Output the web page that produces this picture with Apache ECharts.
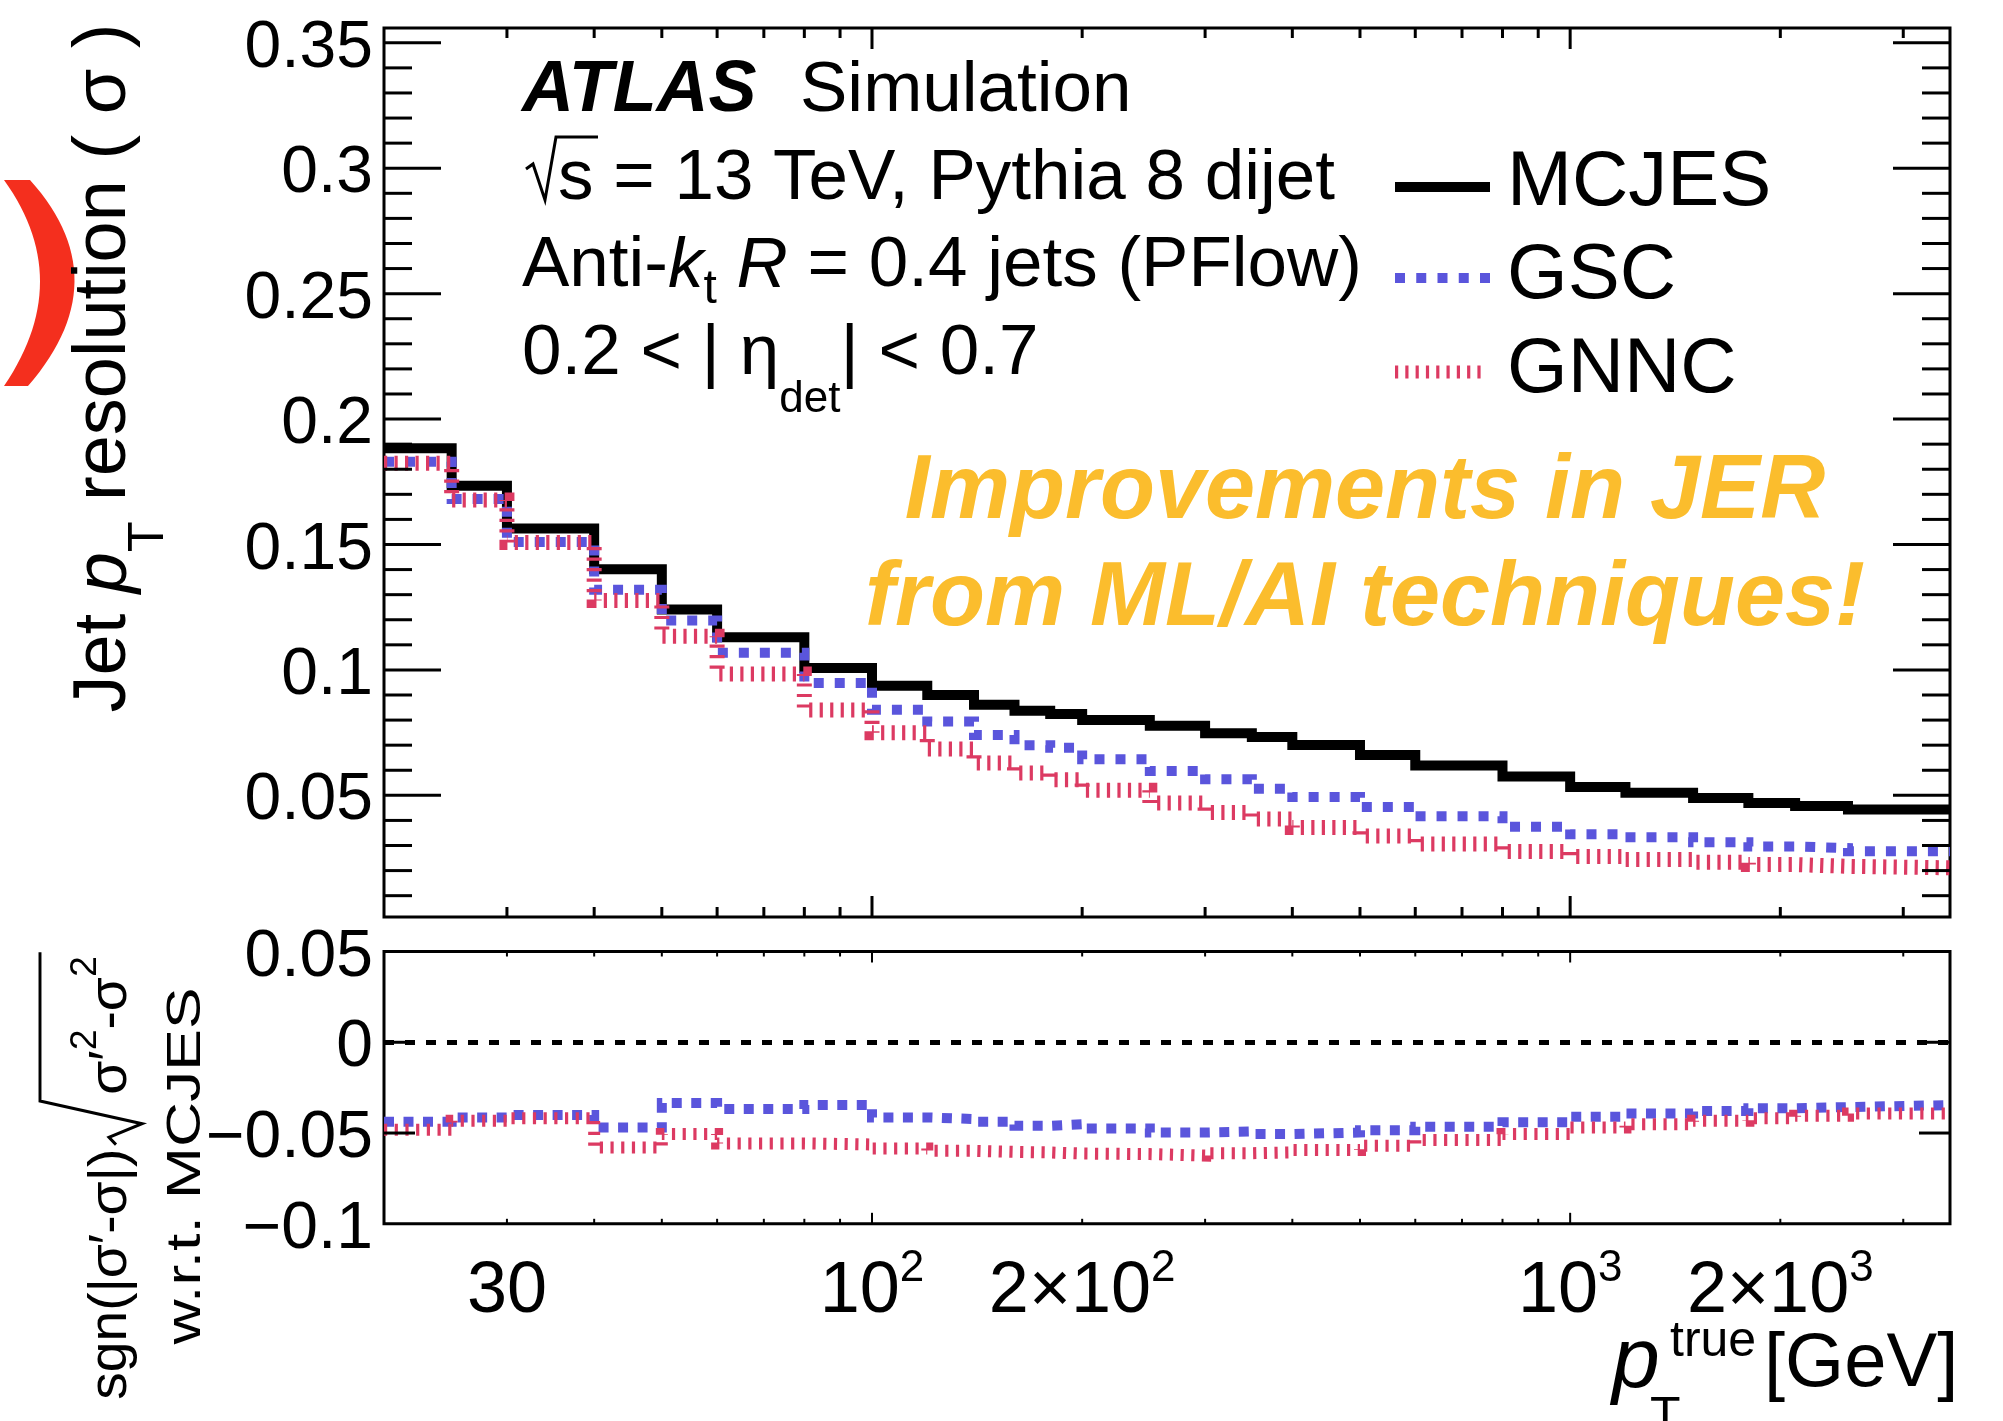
<!DOCTYPE html>
<html>
<head>
<meta charset="utf-8">
<script src="https://cdn.jsdelivr.net/npm/echarts@6.0.0/dist/echarts.min.js"></script>
<style>
  html, body { margin: 0; padding: 0; background: #fff; }
  #chart { width: 2003px; height: 1421px; }
</style>
</head>
<body>
<div id="chart"></div>
<script>
// pT(true) bin edges [GeV]
const binEdges = [20, 25, 30, 40, 50, 60, 80, 100, 120, 140, 160, 180, 200, 250, 300, 350, 400, 500, 600, 800, 1000, 1200, 1500, 1800, 2100, 2500, 3500];

// jet pT resolution per bin
const mcjes = [0.1884, 0.1734, 0.1564, 0.1401, 0.1241, 0.1130, 0.1008, 0.0937, 0.0900, 0.0861, 0.0837, 0.0824, 0.0800,
  0.0777, 0.0748, 0.0733, 0.0701, 0.0661, 0.0619, 0.0575, 0.0533, 0.0510, 0.0489, 0.0469, 0.0458, 0.0444];
const gsc = [0.1830, 0.1681, 0.1510, 0.1320, 0.1197, 0.1068, 0.0948, 0.0841, 0.0794, 0.0741, 0.0700, 0.0690, 0.0644,
  0.0597, 0.0564, 0.0526, 0.0493, 0.0454, 0.0417, 0.0375, 0.0345, 0.0333, 0.0313, 0.0296, 0.0290, 0.0277];
const gnnc = [0.1824, 0.1677, 0.1508, 0.1277, 0.1134, 0.0984, 0.0840, 0.0750, 0.0685, 0.0629, 0.0589, 0.0562, 0.0520,
  0.0469, 0.0432, 0.0406, 0.0372, 0.0338, 0.0306, 0.0276, 0.0256, 0.0244, 0.0233, 0.0224, 0.0217, 0.0211];

// lower panel: sgn(|s'|-|s|) sqrt(|s'^2 - s^2|) w.r.t. MCJES
const gscDiff = [-0.0438, -0.0414, -0.0400, -0.0469, -0.0335, -0.0368, -0.0346, -0.0414, -0.0423, -0.0438, -0.0460, -0.0451, -0.0475,
  -0.0497, -0.0491, -0.0506, -0.0497, -0.0485, -0.0465, -0.0440, -0.0410, -0.0392, -0.0379, -0.0364, -0.0357, -0.0346];
const gnncDiff = [-0.0482, -0.0433, -0.0418, -0.0580, -0.0506, -0.0557, -0.0563, -0.0585, -0.0598, -0.0604, -0.0607, -0.0613, -0.0616,
  -0.0624, -0.0611, -0.0607, -0.0594, -0.0570, -0.0539, -0.0506, -0.0469, -0.0451, -0.0433, -0.0418, -0.0405, -0.0392];

// axis ticks and labels
const xTicks = [30, 40, 50, 60, 70, 80, 90, 100, 200, 300, 400, 500, 600, 700, 800, 900, 1000, 2000, 3000];
const xMajorTicks = [100, 1000];
const xTickLabels = [[30, '30', ''], [100, '10', '2'], [200, '2×10', '2'], [1000, '10', '3'], [2000, '2×10', '3']];
const yMainLabels = [[0.05, '0.05'], [0.1, '0.1'], [0.15, '0.15'], [0.2, '0.2'], [0.25, '0.25'], [0.3, '0.3'], [0.35, '0.35']];
const yRatioLabels = [[0.05, '0.05'], [0, '0'], [-0.05, '−0.05'], [-0.1, '−0.1']];

const FONT = '"Liberation Sans", Arial, Helvetica, sans-serif';
const MID = 0.27; // drawn text centre to alphabetic baseline, in em
const BLUE = '#5a55dc', RED = '#dc3a62', GOLD = '#fbbd2d';

let yMainTicks = [];
for (let i = 1; i <= 35; i++) yMainTicks.push(+(i * 0.01).toFixed(2));

const mctx = document.createElement('canvas').getContext('2d');
function textWidth(t, s, i, b) {
  mctx.font = (i ? 'italic ' : '') + (b ? 'bold ' : '') + s + 'px ' + FONT;
  return mctx.measureText(t).width;
}

function textEl(t, x, base, s, o) {
  o = o || {};
  let a = o.a || 'left';
  return {
    type: 'text', silent: true, z: 50,
    style: {
      text: t, x: x, y: base - MID * s, fill: o.c || '#000',
      fontSize: s, fontFamily: FONT, fontStyle: o.i ? 'italic' : 'normal', fontWeight: o.b ? 'bold' : 'normal',
      textAlign: a, align: a, textVerticalAlign: 'middle', verticalAlign: 'middle'
    }
  };
}

// lay out text pieces one after another on a baseline
function run(parts, x, base) {
  let els = [];
  let cx = x;
  parts.forEach(p => {
    if (p.at != null) cx = p.at;
    cx += p.dx || 0;
    els.push(textEl(p.t, cx, base + (p.dy || 0), p.s, p));
    cx += textWidth(p.t, p.s, p.i, p.b);
  });
  els.end = cx;
  return els;
}
function runWidth(parts) {
  return parts.reduce((a, p) => a + textWidth(p.t, p.s, p.i, p.b), 0);
}

function seg(x1, y1, x2, y2, w) {
  return {type: 'line', shape: {x1: x1, y1: y1, x2: x2, y2: y2}, style: {stroke: '#000', lineWidth: w || 3}};
}

function steps(vals) {
  let pts = vals.map((v, i) => [binEdges[i], v]);
  pts.push([binEdges[binEdges.length - 1], vals[vals.length - 1]]);
  return pts;
}

function histLine(name, vals, gi, color, width, dash, z) {
  return {
    name: name, type: 'line', xAxisIndex: gi, yAxisIndex: gi, step: 'end',
    data: steps(vals), symbol: 'none', showSymbol: false, silent: true, z: z,
    lineStyle: {color: color, width: width, type: dash || 'solid', cap: 'butt', join: 'miter'}
  };
}

// tick marks drawn on all four sides of a frame
function tickSeries(gi, yRef, xLen, yLen, yTicks, yMajorStep) {
  let data = xTicks.map(v => [v, yRef, 0]).concat(yTicks.map(v => [20, v, 1]));
  return {
    type: 'custom', xAxisIndex: gi, yAxisIndex: gi, silent: true, clip: false, z: 20,
    data: data,
    renderItem: function (params, api) {
      let cs = params.coordSys;
      if (api.value(2) === 0) {
        let v = api.value(0);
        let x = api.coord([v, yRef])[0];
        let L = xMajorTicks.indexOf(v) >= 0 ? xLen[0] : xLen[1];
        let b = cs.y + cs.height;
        return {type: 'group', children: [seg(x, b, x, b - L, xLen[2]), seg(x, cs.y, x, cs.y + L, xLen[2])]};
      }
      let v = api.value(1);
      let y = api.coord([20, v])[1];
      let r = v / yMajorStep;
      let L = Math.abs(r - Math.round(r)) < 1e-6 ? yLen[0] : yLen[1];
      let R = cs.x + cs.width;
      return {type: 'group', children: [seg(cs.x, y, cs.x + L, y), seg(R, y, R - L, y)]};
    }
  };
}

function yLabelSeries(gi, labels) {
  return {
    type: 'custom', xAxisIndex: gi, yAxisIndex: gi, silent: true, clip: false, z: 20,
    data: labels.map(l => [20, l[0]]),
    renderItem: function (params, api) {
      let cs = params.coordSys;
      let y = api.coord([20, api.value(1)])[1];
      return textEl(labels[params.dataIndex][1], cs.x - 11, y + 0.358 * 66, 66, {a: 'right'});
    }
  };
}

function xLabelSeries(gi) {
  return {
    type: 'custom', xAxisIndex: gi, yAxisIndex: gi, silent: true, clip: false, z: 20,
    data: xTickLabels.map(l => [l[0], 0]),
    renderItem: function (params, api) {
      let cs = params.coordSys;
      let l = xTickLabels[params.dataIndex];
      let x = api.coord([l[0], 0])[0];
      let bottom = cs.y + cs.height;
      let wb = textWidth(l[1], 72), ws = l[2] ? textWidth(l[2], 44) : 0;
      let x0 = x - (wb + ws) / 2;
      let kids = [textEl(l[1], x0, bottom + 88, 72)];
      if (l[2]) kids.push(textEl(l[2], x0 + wb, bottom + 57, 44));
      return {type: 'group', children: kids};
    }
  };
}

function quad(p0, c, p2, n) {
  let pts = [];
  for (let k = 0; k <= n; k++) {
    let t = k / n, a = (1 - t) * (1 - t), b = 2 * (1 - t) * t, d = t * t;
    pts.push([a * p0[0] + b * c[0] + d * p2[0], a * p0[1] + b * c[1] + d * p2[1]]);
  }
  return pts;
}

let graphics = [];

// red mark at the left border of the slide
graphics.push({
  type: 'polygon', silent: true,
  shape: {points: quad([30, 180], [120, 280], [28, 386], 30).concat(quad([4, 386], [76, 280], [4, 180], 30))},
  style: {fill: '#f42f1e'}
});

// ATLAS label block
graphics = graphics.concat(run([{t: 'ATLAS', s: 72, i: 1, b: 1}, {t: 'Simulation', s: 71, at: 800}], 522, 111));
graphics.push({type: 'polyline', silent: true, shape: {points: [[526, 169], [533, 164], [545, 200], [556, 137], [598, 137]]},
  style: {stroke: '#000', lineWidth: 3, fill: null}});
graphics = graphics.concat(run([{t: 's', s: 71}, {t: ' = 13 TeV, Pythia 8 dijet', s: 71}], 558, 199));
graphics = graphics.concat(run([{t: 'Anti-', s: 71}, {t: 'k', s: 71, i: 1}, {t: 't', s: 48, dy: 17},
  {t: ' ', s: 71}, {t: 'R', s: 71, i: 1}, {t: ' = 0.4 jets (PFlow)', s: 71}], 522, 286));
graphics = graphics.concat(run([{t: '0.2 < | η', s: 71}, {t: 'det', s: 44, dy: 38}, {t: '| < 0.7', s: 71}], 522, 374));

// legend
graphics.push({type: 'line', silent: true, shape: {x1: 1395, y1: 187, x2: 1490, y2: 187}, style: {stroke: '#000', lineWidth: 10}});
graphics.push({type: 'line', silent: true, shape: {x1: 1395, y1: 278, x2: 1490, y2: 278}, style: {stroke: BLUE, lineWidth: 10, lineDash: [10, 11.25]}});
graphics.push({type: 'line', silent: true, shape: {x1: 1395, y1: 372, x2: 1484, y2: 372}, style: {stroke: RED, lineWidth: 13, lineDash: [3.2, 7.1]}});
graphics.push(textEl('MCJES', 1507, 205, 78));
graphics.push(textEl('GSC', 1507, 298, 78));
graphics.push(textEl('GNNC', 1507, 392, 78));

// highlighted message
graphics.push(textEl('Improvements in JER', 1365, 517, 90, {i: 1, b: 1, c: GOLD, a: 'center'}));
graphics.push(textEl('from ML/AI techniques!', 1365, 624, 90, {i: 1, b: 1, c: GOLD, a: 'center'}));

// x axis title
graphics.push(textEl('p', 1612, 1386, 86, {i: 1}));
graphics.push(textEl('true', 1670, 1356, 50));
graphics.push(textEl('T', 1650, 1432, 50));
graphics.push(textEl('[GeV]', 1764, 1386, 76));

// main y axis title (rotated)
let yTitle = [{t: 'Jet ', s: 74}, {t: 'p', s: 74, i: 1}, {t: 'T', s: 50, dy: 38}, {t: ' resolution ( σ )', s: 74}];
graphics.push({type: 'group', x: 125, y: 368, rotation: Math.PI / 2,
  children: run(yTitle, -runWidth(yTitle) / 2, 0)});

// lower y axis title (rotated), first line with the square root
let l1a = [{t: 'sgn(|σ′-σ|)', s: 53}];
let l1b = [{t: 'σ′', s: 53}, {t: '2', s: 36, dy: -30}, {t: '-σ', s: 53}, {t: '2', s: 36, dy: -30}];
let wa = runWidth(l1a), wb = runWidth(l1b), wr = 52;
let x0 = -(wa + wr + wb) / 2;
let lowKids = run(l1a, x0, 0);
let rx = x0 + wa;
let rest = run(l1b, rx + wr, 0);
lowKids = lowKids.concat(rest);
lowKids.push({type: 'polyline', shape: {points: [[rx + 4, -10], [rx + 11, -17], [rx + 24, 16], [rx + 46, -86], [rest.end + 4, -86]]},
  style: {stroke: '#000', lineWidth: 3, fill: null, strokeNoScale: true}});
graphics.push({type: 'group', x: 126, y: 1178, rotation: Math.PI / 2, scaleX: 1.04, children: lowKids});
let l2 = [{t: 'w.r.t. MCJES', s: 48}];
graphics.push({type: 'group', x: 200, y: 1166, rotation: Math.PI / 2, scaleX: 1.3,
  children: run(l2, -runWidth(l2) / 2, 0)});

function hiddenAxis(o) {
  return Object.assign({axisLine: {show: false}, axisTick: {show: false}, axisLabel: {show: false}, splitLine: {show: false}}, o);
}

let option = {
  animation: false,
  backgroundColor: '#fff',
  grid: [
    {left: 384, top: 28, width: 1566, height: 889, show: true, borderColor: '#000', borderWidth: 3, backgroundColor: 'transparent', outerBoundsMode: 'none'},
    {left: 384, top: 951.5, width: 1566, height: 272.3, show: true, borderColor: '#000', borderWidth: 3, backgroundColor: 'transparent', outerBoundsMode: 'none'}
  ],
  xAxis: [
    hiddenAxis({type: 'log', logBase: 10, gridIndex: 0, min: 20, max: 3500}),
    hiddenAxis({type: 'log', logBase: 10, gridIndex: 1, min: 20, max: 3500})
  ],
  yAxis: [
    hiddenAxis({type: 'value', gridIndex: 0, min: 0.0015, max: 0.3559}),
    hiddenAxis({type: 'value', gridIndex: 1, min: -0.1, max: 0.05})
  ],
  series: [
    histLine('MCJES', mcjes, 0, '#000', 10, null, 3),
    histLine('GSC', gsc, 0, BLUE, 10, [10, 11], 4),
    histLine('GNNC', gnnc, 0, RED, 15, [3.2, 7.3], 5),
    Object.assign(histLine('GSC ratio', gscDiff, 1, BLUE, 10, [10, 9.5], 4), {
      markLine: {silent: true, symbol: ['none', 'none'], label: {show: false},
        lineStyle: {color: '#000', width: 5, type: [10, 11]}, data: [{yAxis: 0}]}
    }),
    histLine('GNNC ratio', gnncDiff, 1, RED, 12, [3.2, 7.5], 5),
    tickSeries(0, 0.1, [21, 10, 3], [57, 28], yMainTicks, 0.05),
    tickSeries(1, 0, [11, 5, 2], [31, 31], [-0.05, 0], 0.05),
    yLabelSeries(0, yMainLabels),
    yLabelSeries(1, yRatioLabels),
    xLabelSeries(1)
  ],
  graphic: graphics
};

let chart = echarts.init(document.getElementById('chart'), null, {renderer: 'canvas', width: 2003, height: 1421});
chart.setOption(option);
</script>
</body>
</html>
